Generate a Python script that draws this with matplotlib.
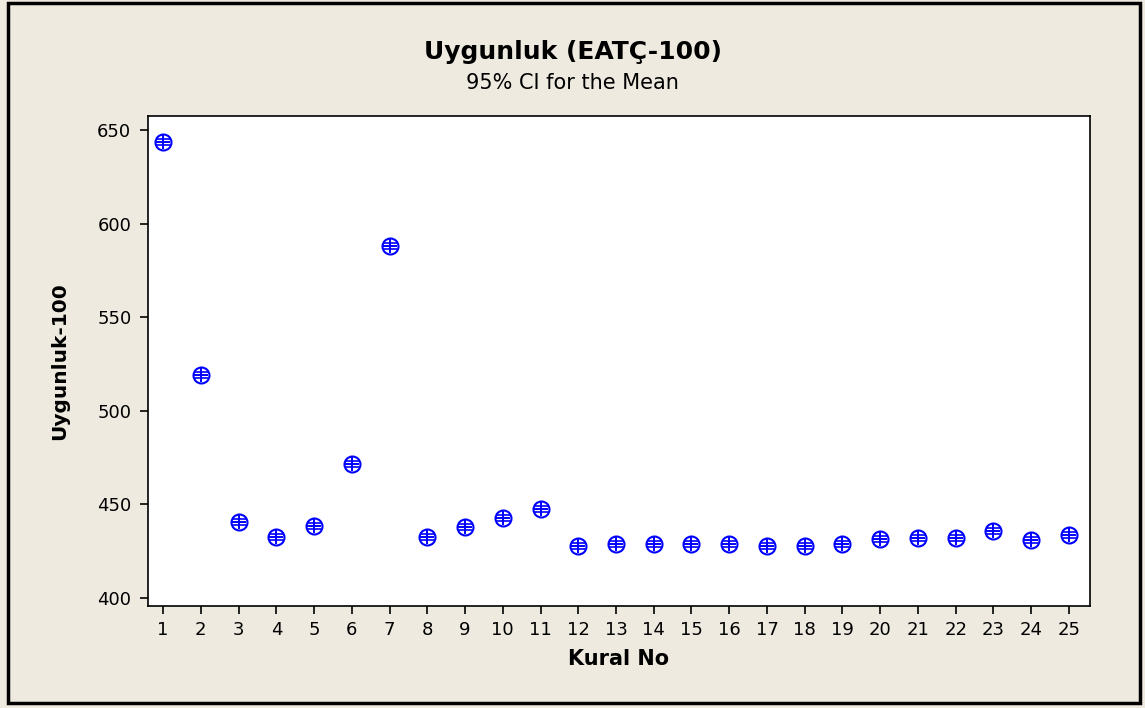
import matplotlib.pyplot as plt
from matplotlib.patches import Rectangle

# Rule numbers and mean fitness values
kural = list(range(1, 26))
uygunluk = [643.6, 519.1, 440.6, 432.6, 438.5, 471.6, 588.0, 432.6, 438.0, 442.7,
            447.5, 427.8, 428.8, 428.8, 428.8, 428.8, 427.8, 427.8, 428.8, 431.5,
            432.0, 432.0, 435.8, 431.0, 433.7]
ci_half = [1.5] * 25
yticks = [400, 450, 500, 550, 600, 650]

bg = '#EEEAE0'
fig = plt.figure(figsize=(11.45, 7.08), dpi=100, facecolor=bg)
ax = fig.add_axes([148 / 1145, 1 - 606 / 708, (1090 - 148) / 1145, (606 - 116) / 708])
ax.set_facecolor('white')

# CI bars + mean symbol (circle with cross)
ax.errorbar(kural, uygunluk, yerr=ci_half, fmt='none', ecolor='#0000FF', elinewidth=1.2,
            capsize=5, capthick=1.2)
ax.plot(kural, uygunluk, 'o', mfc='none', mec='#0000FF', ms=11.5, mew=1.5)
ax.plot(kural, uygunluk, '+', color='#0000FF', ms=10, mew=1.4)

ax.set_xlim(0.6, 25.56)
ax.set_ylim(395.7, 657.5)
ax.set_xticks(kural)
ax.set_yticks(yticks)
ax.tick_params(direction='out', length=6, width=1.2, labelsize=13, colors='black')
ax.tick_params(axis='y', pad=6)
ax.tick_params(axis='x', pad=5)
for s in ax.spines.values():
    s.set_linewidth(1.2)

ax.set_xlabel('Kural No', fontsize=15, fontweight='bold', labelpad=7)
ax.set_ylabel('Uygunluk-100', fontsize=14.5, fontweight='bold', labelpad=20)

fig.text(0.5, 1 - 52 / 708, 'Uygunluk (EATÇ-100)', ha='center', va='center',
         fontsize=18, fontweight='bold')
fig.text(0.5, 1 - 83 / 708, '95% CI for the Mean', ha='center', va='center', fontsize=15)

# outer frame
fig.patches.append(Rectangle((8 / 1145, 5 / 708), 1132 / 1145, 700 / 708,
                             transform=fig.transFigure, fill=False,
                             edgecolor='black', linewidth=2.5))

fig.savefig('out.png', dpi=100, facecolor=bg)
